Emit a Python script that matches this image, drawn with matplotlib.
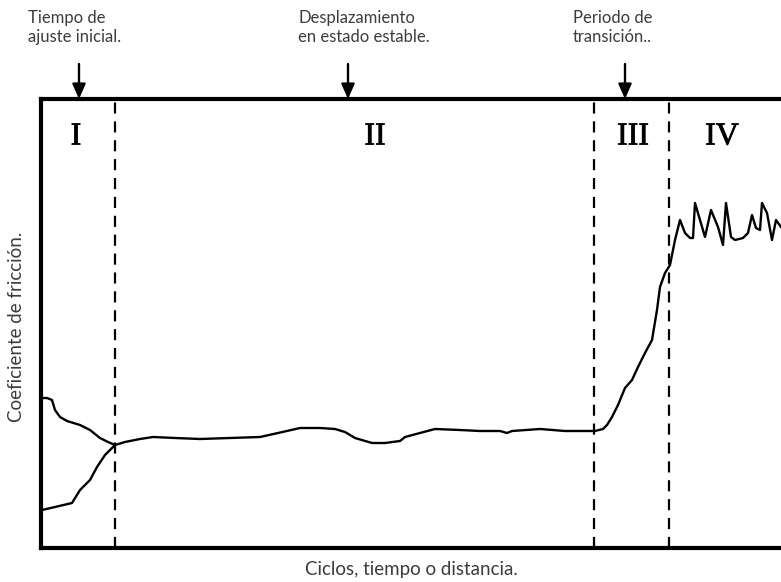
import numpy as np
import matplotlib.pyplot as plt
import matplotlib.patheffects as pe

upper_x = [1, 6, 11, 14, 19, 26, 39, 49, 59, 67, 74]
upper_y = [150, 150, 148, 138, 131, 127, 123, 118, 110, 106, 103]
lower_x = [1, 14, 31, 39, 49, 56, 64, 74]
lower_y = [38, 41, 45, 58, 68, 81, 93, 103]

main_x = [74, 84, 99, 112, 134, 159, 189, 219, 237, 259, 279, 294, 304, 314, 331,
          344, 359, 364, 379, 394, 419, 439, 459, 466, 471, 499, 524, 554, 562, 566,
          571, 577, 584, 591, 597, 604, 611, 616, 619, 624, 629, 634, 639, 644, 649,
          652, 654, 659, 664, 670, 677, 682, 685, 690, 694, 702, 707, 711, 715, 719,
          721, 726, 731, 735, 740]
main_y = [103, 106, 109, 111, 110, 109, 110, 111, 115, 120, 120, 119, 116, 110, 105,
          105, 107, 111, 115, 119, 118, 117, 117, 115, 117, 119, 117, 117, 119, 123,
          131, 143, 160, 168, 181, 195, 208, 238, 261, 275, 283, 308, 328, 315, 310,
          310, 345, 328, 311, 338, 321, 303, 345, 311, 308, 310, 315, 333, 320, 318,
          345, 335, 308, 328, 321]

limits = [74, 553, 628]          # divisiones entre etapas
stage_x = [35, 334, 592, 681]
stage_labels = ['I', 'II', 'III', 'IV']

notes = ['Tiempo de\najuste inicial.', 'Desplazamiento\nen estado estable.',
         'Periodo de\ntransición..']
note_arrow_x = [38, 307, 584]
note_text_x = [-13, 257, 532]

fig = plt.figure(figsize=(7.81, 5.82), dpi=100)
ax = fig.add_axes([41 / 781, 34 / 582, 740 / 781, 449 / 582])
ax.set_xlim(0, 740)
ax.set_ylim(0, 449)

ax.plot(upper_x, upper_y, color='black', lw=1.7, solid_joinstyle='round')
ax.plot(lower_x, lower_y, color='black', lw=1.7, solid_joinstyle='round')
ax.plot(main_x, main_y, color='black', lw=1.7, solid_joinstyle='round')

for x in limits:
    ax.axvline(x, color='black', lw=1.6, ls=(0, (5, 3.5)))

for x, lab in zip(stage_x, stage_labels):
    ax.text(x, 411, lab, fontsize=23, family='Liberation Serif', ha='center', va='center',
            path_effects=[pe.withStroke(linewidth=0.5, foreground='black')])

grey = '#3c3c3c'
for xa, xt, txt in zip(note_arrow_x, note_text_x, notes):
    ax.annotate('', xy=(xa, 449), xytext=(xa, 484), annotation_clip=False,
                arrowprops=dict(arrowstyle='-|>,head_length=0.9,head_width=0.4',
                                color='black', lw=1.7, shrinkA=0, shrinkB=0))
    ax.text(xt, 538, txt, fontsize=12, family='Lato', color=grey, ha='left',
            va='top', linespacing=1.25, clip_on=False)

ax.set_xticks([])
ax.set_yticks([])
ax.spines['right'].set_visible(False)
for s in ['left', 'top', 'bottom']:
    ax.spines[s].set_linewidth(3)

ax.set_ylabel('Coeficiente de fricción.', fontsize=13.5, family='Lato', color=grey)
ax.set_xlabel('Ciclos, tiempo o distancia.', fontsize=13.5, family='Lato', color=grey)
ax.xaxis.set_label_coords((411 - 41) / 740, -22 / 449)
ax.yaxis.set_label_coords(-24 / 740, (548 - 327) / 449)
ax.xaxis.label.set_va('center')
ax.yaxis.label.set_va('center')

fig.savefig('out.png', dpi=100)
